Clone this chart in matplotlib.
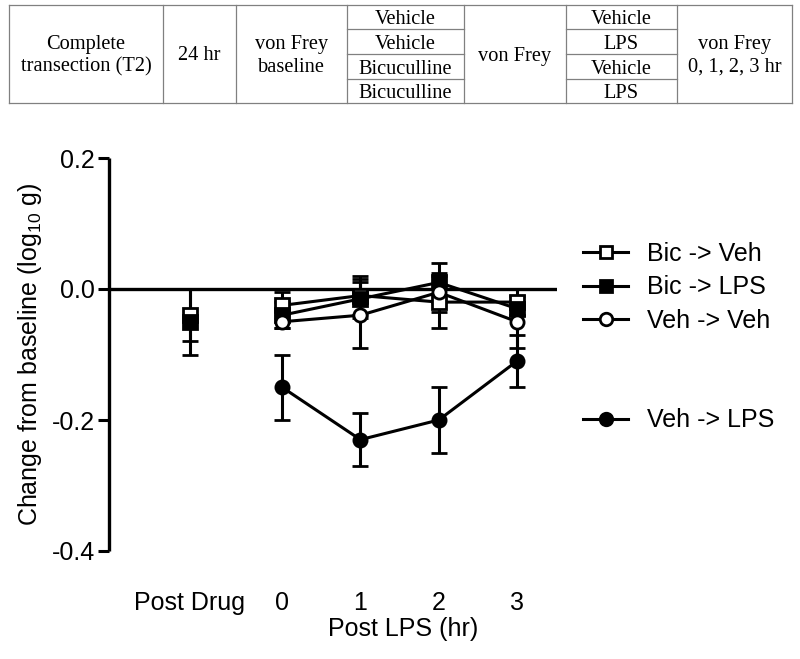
"""
Task:
    Redraw the von Frey time course after complete transection (T2),
    with the protocol table above the chart.

Outputs:
    out.png
"""

import matplotlib.pyplot as plt
from matplotlib.lines import Line2D


# <>#<>#<>#<>#<>#<>#<>#<>#<>#<>#<>#<>#<>#<>#<>#<>#<>#<>#<>#<>#<>#<>#<>#<>#<>#<>
# <> Step 0. Data
# <>#<>#<>#<>#<>#<>#<>#<>#<>#<>#<>#<>#<>#<>#<>#<>#<>#<>#<>#<>#<>#<>#<>#<>#<>#<>

group_names = ["Bic -> Veh", "Bic -> LPS", "Veh -> Veh", "Veh -> LPS"]
time_labels = ["Post Drug", "0", "1", "2", "3"]
post_lps_hours = [0, 1, 2, 3]

# Post Drug point (only the bicuculline groups were plotted there)
post_drug_mean = {"Bic -> Veh": -0.04, "Bic -> LPS": -0.05}
post_drug_sem = {"Bic -> Veh": 0.04, "Bic -> LPS": 0.05}

bic_veh_mean = [-0.025, -0.01, -0.02, -0.02]
bic_veh_sem = [0.02, 0.03, 0.04, 0.02]
bic_lps_mean = [-0.04, -0.015, 0.01, -0.03]
bic_lps_sem = [0.02, 0.03, 0.03, 0.01]
veh_veh_mean = [-0.05, -0.04, -0.005, -0.05]
veh_veh_sem = [0.01, 0.05, 0.03, 0.04]
veh_lps_mean = [-0.15, -0.23, -0.20, -0.11]
veh_lps_sem = [0.05, 0.04, 0.05, 0.04]

# protocol table text
table_left_cells = ["Complete\ntransection (T2)", "24 hr", "von Frey\nbaseline"]
table_drug_cells = ["Vehicle", "Vehicle", "Bicuculline", "Bicuculline"]
table_middle_cell = "von Frey"
table_challenge_cells = ["Vehicle", "LPS", "Vehicle", "LPS"]
table_right_cell = "von Frey\n0, 1, 2, 3 hr"

# layout (pixels of the 800 x 659 canvas)
WIDTH, HEIGHT, DPI = 800, 659, 100
COLUMN_EDGES = [9, 163, 236, 347, 464, 566, 677, 792]
ROW_EDGES = [4.5, 29.3, 54, 79, 102.5]
TEXT_SHIFT = 2.5
POST_DRUG_X = -1.18
AX_LEFT, AX_RIGHT, AX_TOP, AX_BOTTOM = 109, 557, 158, 551

plt.rcParams["font.family"] = ["Liberation Sans", "DejaVu Sans"]
plt.rcParams["mathtext.fontset"] = "custom"
plt.rcParams["mathtext.rm"] = "Liberation Sans"
plt.rcParams["mathtext.it"] = "Liberation Sans:italic"
plt.rcParams["axes.unicode_minus"] = False

fig = plt.figure(figsize=(WIDTH / DPI, HEIGHT / DPI), dpi=DPI)


# <>#<>#<>#<>#<>#<>#<>#<>#<>#<>#<>#<>#<>#<>#<>#<>#<>#<>#<>#<>#<>#<>#<>#<>#<>#<>
# <> Step 1. Protocol table
# <>#<>#<>#<>#<>#<>#<>#<>#<>#<>#<>#<>#<>#<>#<>#<>#<>#<>#<>#<>#<>#<>#<>#<>#<>#<>

tab = fig.add_axes([0, 0, 1, 1])
tab.set_xlim(0, WIDTH)
tab.set_ylim(HEIGHT, 0)
tab.axis("off")

line_kw = dict(color="#808080", lw=0.9)
top, bottom = ROW_EDGES[0], ROW_EDGES[-1]
tab.plot([COLUMN_EDGES[0], COLUMN_EDGES[-1]], [top, top], **line_kw)
tab.plot([COLUMN_EDGES[0], COLUMN_EDGES[-1]], [bottom, bottom], **line_kw)
for x in COLUMN_EDGES:
    tab.plot([x, x], [top, bottom], **line_kw)
for col in (3, 5):
    for y in ROW_EDGES[1:-1]:
        tab.plot([COLUMN_EDGES[col], COLUMN_EDGES[col + 1]], [y, y], **line_kw)

text_kw = dict(family="Liberation Serif", fontsize=14.7, ha="center", va="center",
               linespacing=1.22)
mid_y = (top + bottom) / 2 + TEXT_SHIFT


def column_center(i):
    return (COLUMN_EDGES[i] + COLUMN_EDGES[i + 1]) / 2


for i, txt in enumerate(table_left_cells):
    tab.text(column_center(i), mid_y, txt, **text_kw)
tab.text(column_center(4), mid_y, table_middle_cell, **text_kw)
tab.text(column_center(6), mid_y, table_right_cell, **text_kw)
for r in range(4):
    y = (ROW_EDGES[r] + ROW_EDGES[r + 1]) / 2 + TEXT_SHIFT
    tab.text(column_center(3), y, table_drug_cells[r], **text_kw)
    tab.text(column_center(5), y, table_challenge_cells[r], **text_kw)


# <>#<>#<>#<>#<>#<>#<>#<>#<>#<>#<>#<>#<>#<>#<>#<>#<>#<>#<>#<>#<>#<>#<>#<>#<>#<>
# <> Step 2. Time course
# <>#<>#<>#<>#<>#<>#<>#<>#<>#<>#<>#<>#<>#<>#<>#<>#<>#<>#<>#<>#<>#<>#<>#<>#<>#<>

ax = fig.add_axes([AX_LEFT / WIDTH, (HEIGHT - AX_BOTTOM) / HEIGHT,
                   (AX_RIGHT - AX_LEFT) / WIDTH, (AX_BOTTOM - AX_TOP) / HEIGHT])

styles = {
    "Bic -> Veh": dict(marker="s", mfc="white"),
    "Bic -> LPS": dict(marker="s", mfc="black"),
    "Veh -> Veh": dict(marker="o", mfc="white"),
    "Veh -> LPS": dict(marker="o", mfc="black"),
}
series = {
    "Bic -> Veh": (bic_veh_mean, bic_veh_sem),
    "Bic -> LPS": (bic_lps_mean, bic_lps_sem),
    "Veh -> Veh": (veh_veh_mean, veh_veh_sem),
    "Veh -> LPS": (veh_lps_mean, veh_lps_sem),
}
bar_kw = dict(color="black", mec="black", mew=2, ms=9.5, lw=2.2,
              elinewidth=2.2, capsize=6, capthick=2.2, clip_on=False)

ax.axhline(0, color="black", lw=2.4, zorder=1)

for name in group_names:
    mean, sem = series[name]
    ax.errorbar(post_lps_hours, mean, yerr=sem, zorder=3, **styles[name], **bar_kw)
    if name in post_drug_mean:
        ax.errorbar([POST_DRUG_X], [post_drug_mean[name]], yerr=[post_drug_sem[name]],
                    zorder=3, **styles[name], **bar_kw)

ax.set_xlim(-2.21, 3.51)
ax.set_ylim(-0.4, 0.2)
ax.set_yticks([-0.4, -0.2, 0.0, 0.2])
ax.set_yticklabels(["-0.4", "-0.2", "0.0", "0.2"])
ax.set_xticks([POST_DRUG_X] + post_lps_hours)
ax.set_xticklabels(time_labels)

for side in ("top", "right", "bottom"):
    ax.spines[side].set_visible(False)
ax.spines["left"].set_linewidth(2.4)
ax.spines["left"].set_capstyle("butt")
ax.tick_params(axis="y", length=8, width=2.2, pad=2, labelsize=18)
ax.tick_params(axis="x", length=0, pad=29, labelsize=18)

ax.set_ylabel("Change from baseline (log$_{10}$ g)", fontsize=18)
ax.yaxis.set_label_coords(-0.145, 0.5)
ax.set_xlabel("Post LPS (hr)", fontsize=18)
ax.xaxis.set_label_coords(0.656, -0.168)

handles, labels = [], []
for name in group_names:
    if name == "Veh -> LPS":
        for _ in range(2):
            handles.append(Line2D([], [], linestyle="none", marker="none"))
            labels.append(" ")
    handles.append(Line2D([], [], color="black", lw=2.2, mec="black", mew=2, ms=9,
                          **styles[name]))
    labels.append(name)

fig.legend(handles, labels, loc="upper left", bbox_to_anchor=(583 / WIDTH, 1 - 242 / HEIGHT),
           frameon=False, fontsize=18, handlelength=1.8, handletextpad=0.75,
           labelspacing=0.37, borderpad=0, borderaxespad=0)

fig.savefig("out.png", dpi=DPI)
